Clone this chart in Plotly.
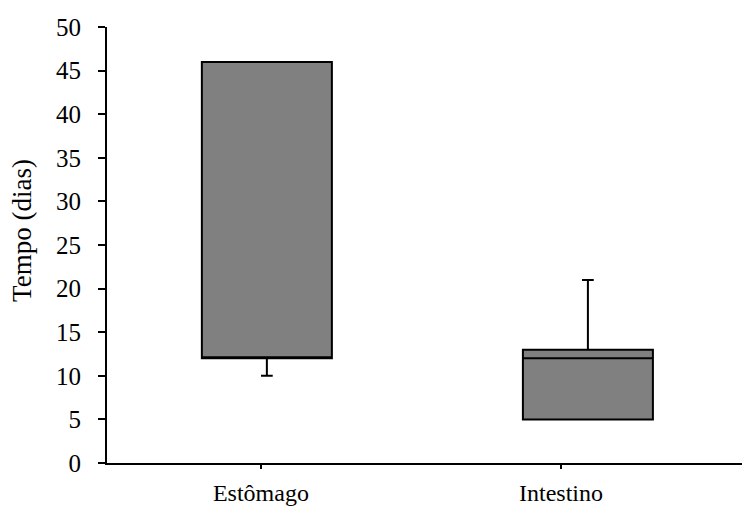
import plotly.graph_objects as go

# Tempo de permanência (dias) por órgão
categories = ["Estômago", "Intestino"]
q1 = [12, 5]
median = [12, 12]
q3 = [46, 13]
lower = [10, 5]
upper = [46, 21]
y_title = "Tempo (dias)"

FONT = "Liberation Serif"
TXT = dict(family=FONT, size=25, color="black")

fig = go.Figure()
fig.add_trace(go.Box(
    x=categories,
    q1=q1, median=median, q3=q3,
    lowerfence=lower, upperfence=upper,
    fillcolor="#808080",
    line=dict(color="black", width=2),
    width=0.405,
    whiskerwidth=0.09,
    boxpoints=False,
    hoverinfo="y",
    showlegend=False,
))
# invisible trace to carry the labelled category axis
fig.add_trace(go.Scatter(
    x=categories, y=[None, None], xaxis="x2", mode="markers",
    showlegend=False, hoverinfo="skip",
))

# vertical axis title placed as a rotated annotation
fig.add_annotation(
    text=y_title, textangle=-90, showarrow=False,
    xref="paper", yref="paper", x=-0.135, y=0.533,
    xanchor="center", yanchor="middle",
    font=dict(family=FONT, size=27, color="black"),
)

fig.update_layout(
    template="none",
    width=742, height=507,
    margin=dict(l=107, r=0, t=27, b=44),
    plot_bgcolor="white", paper_bgcolor="white",
    font=TXT,
    xaxis=dict(
        type="category", categoryarray=categories,
        range=[-0.498, 1.480],
        showticklabels=False, ticks="",
        showline=True, linecolor="black", linewidth=2,
        showgrid=False, zeroline=False, fixedrange=True,
    ),
    xaxis2=dict(
        type="category", categoryarray=categories,
        overlaying="x", side="bottom",
        range=[-0.513, 1.603],
        ticks="outside", ticklen=5, tickwidth=1.5, tickcolor="black",
        ticklabelstandoff=3,
        showline=False, showgrid=False, zeroline=False,
        tickfont=dict(family=FONT, size=24, color="black"),
    ),
    yaxis=dict(
        range=[0, 50], dtick=5, tick0=0,
        ticks="outside", ticklen=7, tickwidth=1.5, tickcolor="black",
        showline=True, linecolor="black", linewidth=2,
        showgrid=False, zeroline=False,
        tickfont=TXT,
        ticklabelstandoff=12,
    ),
)

fig.write_html("out.html")
